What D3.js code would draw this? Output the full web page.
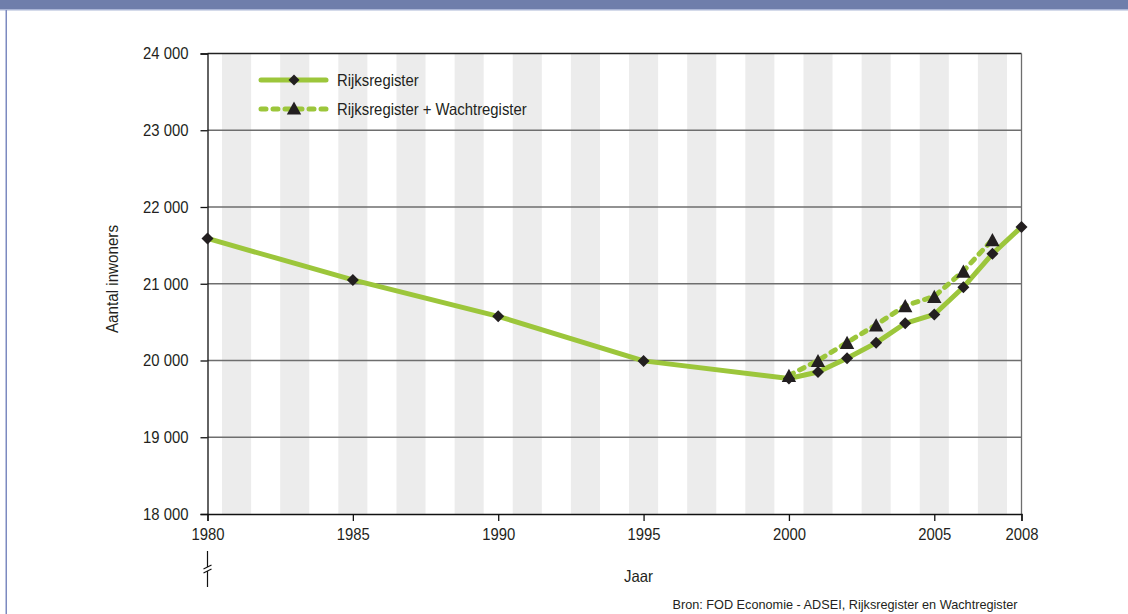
<!DOCTYPE html>
<html>
<head>
<meta charset="utf-8">
<script src="https://cdn.jsdelivr.net/npm/d3@7"></script>
<style>
  body { margin: 0; background: #fff; }
  text { font-family: "Liberation Sans", Arial, sans-serif; fill: #231f20; }
</style>
</head>
<body>
<div id="chart"></div>
<script>
// years and values
var rrYears = [1980, 1985, 1990, 1995, 2000, 2001, 2002, 2003, 2004, 2005, 2006, 2007, 2008]
var rrValues = [21590, 21050, 20575, 19995, 19765, 19850, 20030, 20230, 20485, 20600, 20955, 21390, 21740]
var wrYears = [2000, 2001, 2002, 2003, 2004, 2005, 2006, 2007]
var wrValues = [19805, 20000, 20235, 20465, 20715, 20835, 21165, 21575]
var xTicks = [1980, 1985, 1990, 1995, 2000, 2005, 2008]
var yTicks = [18000, 19000, 20000, 21000, 22000, 23000, 24000]
var seriesNames = ["Rijksregister", "Rijksregister + Wachtregister"]

var W = 1128, H = 614
var green = "#9cc63b"
var markColor = "#231f20"

// no condensed font installed: squeeze the glyphs instead
function condense(sel, f) {
    sel.each(function () {
        var len = this.getComputedTextLength()
        d3.select(this).attr("textLength", len * f).attr("lengthAdjust", "spacingAndGlyphs")
    })
}

var svg = d3.select("#chart").append("svg")
    .attr("width", W)
    .attr("height", H)

// header band + frame
svg.append("rect").attr("x", 0).attr("y", 0).attr("width", W).attr("height", 9).attr("fill", "#6f7eab")
svg.append("rect").attr("x", 0).attr("y", 9).attr("width", W).attr("height", 1.5).attr("fill", "#aab5d6")
svg.append("rect").attr("x", 5.5).attr("y", 10).attr("width", 1.5).attr("height", H - 10).attr("fill", "#7c8ac0")

var x = d3.scaleLinear().domain([1980, 2008]).range([207.5, 1021.5])
var y = d3.scaleLinear().domain([18000, 24000]).range([514, 53.5])

// alternating grey columns
svg.append("g").selectAll("rect")
    .data(d3.range(1981, 2008, 2))
    .enter().append("rect")
    .attr("x", function (d) { return x(d - 0.5) })
    .attr("y", y(24000))
    .attr("width", x(1981) - x(1980))
    .attr("height", y(18000) - y(24000))
    .attr("fill", "#ececec")

// horizontal gridlines
svg.append("g").selectAll("line")
    .data(yTicks.slice(1))
    .enter().append("line")
    .attr("x1", x(1980)).attr("x2", x(2008))
    .attr("y1", function (d) { return y(d) }).attr("y2", function (d) { return y(d) })
    .attr("stroke", function (d) { return d === 24000 ? "#222" : "#6e6e6e" })
    .attr("stroke-width", 1.3)

// right border
svg.append("line")
    .attr("x1", x(2008)).attr("x2", x(2008))
    .attr("y1", y(24000)).attr("y2", y(18000))
    .attr("stroke", "#6e6e6e").attr("stroke-width", 1.3)

// y axis
var yAxis = d3.axisLeft(y).tickValues(yTicks).tickSize(7).tickPadding(12)
    .tickFormat(function (d) { return d3.format(",")(d).replace(",", " ") })
var gy = svg.append("g").attr("transform", "translate(" + x(1980) + ",0)").call(yAxis)
gy.select(".domain").attr("stroke", "#111").attr("stroke-width", 1.3)
gy.selectAll(".tick line").attr("stroke", "#111").attr("stroke-width", 1.3)
gy.selectAll("text").attr("font-size", "16.5px").attr("fill", "#231f20").attr("font-family", null)
condense(gy.selectAll("text"), 0.9)

// x axis
var xAxis = d3.axisBottom(x).tickValues(xTicks).tickSize(7).tickPadding(7).tickFormat(d3.format("d"))
var gx = svg.append("g").attr("transform", "translate(0," + y(18000) + ")").call(xAxis)
gx.select(".domain").attr("stroke", "#111").attr("stroke-width", 1.3)
gx.selectAll(".tick line").attr("stroke", "#111").attr("stroke-width", 1.3)
gx.selectAll("text").attr("font-size", "16.5px").attr("fill", "#231f20").attr("font-family", null)
condense(gx.selectAll("text"), 0.9)

// axis break mark under 1980
var bx = x(1980)
var brk = svg.append("g").attr("stroke", "#111").attr("stroke-width", 1.2).attr("fill", "none")
brk.append("line").attr("x1", bx).attr("x2", bx).attr("y1", 551).attr("y2", 567)
brk.append("line").attr("x1", bx).attr("x2", bx).attr("y1", 571).attr("y2", 587)
brk.append("line").attr("x1", bx - 4).attr("x2", bx + 4).attr("y1", 569).attr("y2", 565)
brk.append("line").attr("x1", bx - 4).attr("x2", bx + 4).attr("y1", 573).attr("y2", 569)

// axis titles
svg.append("text")
    .attr("transform", "translate(118,279) rotate(-90)")
    .attr("text-anchor", "middle")
    .attr("font-size", "16px")
    .attr("textLength", 108).attr("lengthAdjust", "spacingAndGlyphs")
    .text("Aantal inwoners")

svg.append("text")
    .attr("x", 638.5).attr("y", 581.5)
    .attr("text-anchor", "middle")
    .attr("font-size", "16.5px")
    .attr("textLength", 29).attr("lengthAdjust", "spacingAndGlyphs")
    .text("Jaar")

svg.append("text")
    .attr("x", 1017.5).attr("y", 609)
    .attr("text-anchor", "end")
    .attr("font-size", "12.7px")
    .text("Bron: FOD Economie - ADSEI, Rijksregister en Wachtregister")

// lines
var line = d3.line()
    .x(function (d) { return x(d[0]) })
    .y(function (d) { return y(d[1]) })

var rr = d3.zip(rrYears, rrValues)
var wr = d3.zip(wrYears, wrValues)

svg.append("path")
    .datum(wr)
    .attr("d", line)
    .attr("fill", "none")
    .attr("stroke", green)
    .attr("stroke-width", 5)
    .attr("stroke-dasharray", "5,7")
    .attr("stroke-linecap", "round")

svg.append("path")
    .datum(rr)
    .attr("d", line)
    .attr("fill", "none")
    .attr("stroke", green)
    .attr("stroke-width", 5)
    .attr("stroke-linejoin", "round")

// markers
function diamond(cx, cy, r) {
    return "M" + cx + "," + (cy - r) + "L" + (cx + r) + "," + cy + "L" + cx + "," + (cy + r) + "L" + (cx - r) + "," + cy + "Z"
}
function triangle(cx, cy, s) {
    return "M" + cx + "," + (cy - s * 0.55) + "L" + (cx + s * 0.6) + "," + (cy + s * 0.55) + "L" + (cx - s * 0.6) + "," + (cy + s * 0.55) + "Z"
}

svg.append("g").selectAll("path")
    .data(wr)
    .enter().append("path")
    .attr("d", function (d) { return triangle(x(d[0]), y(d[1]), 12) })
    .attr("fill", markColor)

svg.append("g").selectAll("path")
    .data(rr)
    .enter().append("path")
    .attr("d", function (d) { return diamond(x(d[0]), y(d[1]), 6) })
    .attr("fill", markColor)

// legend
var lg = svg.append("g")
lg.append("line").attr("x1", 261).attr("x2", 326).attr("y1", 80).attr("y2", 80)
    .attr("stroke", green).attr("stroke-width", 5).attr("stroke-linecap", "round")
lg.append("path").attr("d", diamond(294, 80, 5.5)).attr("fill", markColor)
lg.append("line").attr("x1", 261).attr("x2", 326).attr("y1", 109).attr("y2", 109)
    .attr("stroke", green).attr("stroke-width", 5).attr("stroke-linecap", "round")
    .attr("stroke-dasharray", "5,7")
lg.append("path").attr("d", triangle(294, 108, 12)).attr("fill", markColor)
var lt = lg.selectAll("text.lab")
    .data(seriesNames)
    .enter().append("text")
    .attr("x", 337)
    .attr("y", function (d, i) { return 80 + i * 29 })
    .attr("dy", "0.35em")
    .attr("font-size", "16.5px")
    .text(function (d) { return d })
condense(lt, 0.9)
</script>
</body>
</html>
